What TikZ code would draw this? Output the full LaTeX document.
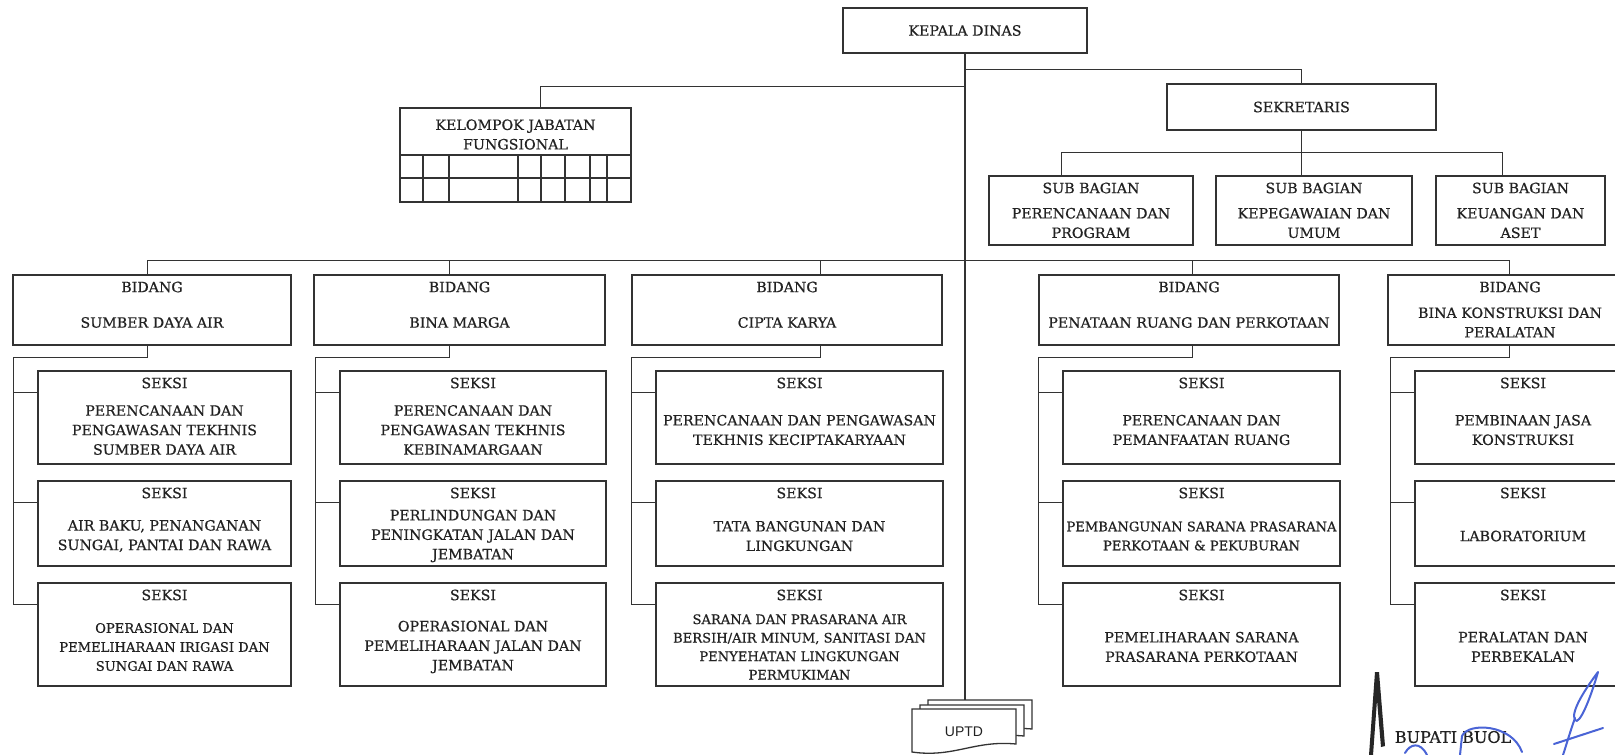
\documentclass[tikz,border=0pt]{standalone}
\usepackage{fontspec}
\setmainfont[FakeBold=0.6]{DejaVu Serif}
\newfontfamily\uptdfont{Liberation Sans}
\usetikzlibrary{calc}
\definecolor{ink}{HTML}{333333}
\definecolor{txt}{HTML}{222222}
\definecolor{sig}{HTML}{4A64D6}
\tikzset{
  unitbox/.style={draw=ink, line width=1.5pt, fill=white, inner sep=0pt},
  unittext/.style={align=center, inner sep=0pt, text=txt, font=\fontsize{14.2}{19.5}\selectfont},
  smalltext/.style={font=\fontsize{13.1}{19}\selectfont},
  tighttext/.style={font=\fontsize{13.1}{18.5}\selectfont},
  wire/.style={draw=ink, line width=1.3pt},
  sigline/.style={draw=sig, line width=2pt, line cap=round},
}
% [body style]{name}{L}{T}{R}{B}{title}{body}
\newcommand{\orgunit}[8][]{%
  \pgfmathsetmacro\ouw{#5-#3}%
  \pgfmathsetmacro\ouh{#6-#4}%
  \pgfmathsetmacro\oux{(#3+#5)/2}%
  \pgfmathsetmacro\ouy{(#4+#6)/2}%
  \pgfmathsetmacro\outy{#4+12}%
  \pgfmathsetmacro\ouby{(#4+25+#6)/2}%
  \node[unitbox, minimum width=\ouw pt, minimum height=\ouh pt] (#2) at (\oux,\ouy) {};%
  \node[unittext] (#2-t) at (\oux,\outy) {#7};%
  \node[unittext,#1] (#2-b) at (\oux,\ouby) {#8};%
}
\begin{document}
\begin{tikzpicture}[x=1pt,y=-1pt]
\useasboundingbox (0,0) rectangle (1615,755);
\clip (0,0) rectangle (1615,755);
\fill[white] (0,0) rectangle (1615,755);

% top
\node[unitbox, unittext, minimum width=244pt, minimum height=45pt] (kepala) at (965,30.5) {KEPALA DINAS};
\node[unitbox, unittext, minimum width=269pt, minimum height=46pt] (sekre) at (1301.5,107) {SEKRETARIS};

% kelompok jabatan fungsional
\node[unitbox, minimum width=231pt, minimum height=94pt] (kjf) at (515.5,155) {};
\node[unittext] (kjf-t) at (515.5,134.5) {KELOMPOK JABATAN\\FUNGSIONAL};
\draw[wire, line width=1.4pt] (400,155) -- (631,155) (400,178) -- (631,178);
\foreach \gx in {423,449,518,541,565,590,607} \draw[wire, line width=1.4pt] (\gx,155) -- (\gx,202);

% sub bagian
\orgunit{sb1}{989}{176}{1193}{245}{SUB BAGIAN}{PERENCANAAN DAN\\PROGRAM}
\orgunit{sb2}{1216}{176}{1412}{245}{SUB BAGIAN}{KEPEGAWAIAN DAN\\UMUM}
\orgunit{sb3}{1436}{176}{1605}{245}{SUB BAGIAN}{KEUANGAN DAN\\ASET}

% bidang
\orgunit{b1}{13}{275}{291}{345}{BIDANG}{SUMBER DAYA AIR}
\orgunit{b2}{314}{275}{605}{345}{BIDANG}{BINA MARGA}
\orgunit{b3}{632}{275}{942}{345}{BIDANG}{CIPTA KARYA}
\orgunit{b4}{1039}{275}{1339}{345}{BIDANG}{PENATAAN RUANG DAN PERKOTAAN}
\orgunit{b5}{1388}{275}{1632}{345}{BIDANG}{BINA KONSTRUKSI DAN\\PERALATAN}

% seksi column 1
\orgunit{s1-1}{38}{371}{291}{464}{SEKSI}{PERENCANAAN DAN\\PENGAWASAN TEKHNIS\\SUMBER DAYA AIR}
\orgunit{s1-2}{38}{481}{291}{566}{SEKSI}{AIR BAKU, PENANGANAN\\SUNGAI, PANTAI DAN RAWA}
\orgunit[smalltext]{s1-3}{38}{583}{291}{686}{SEKSI}{OPERASIONAL DAN\\PEMELIHARAAN IRIGASI DAN\\SUNGAI DAN RAWA}
% column 2
\orgunit{s2-1}{340}{371}{606}{464}{SEKSI}{PERENCANAAN DAN\\PENGAWASAN TEKHNIS\\KEBINAMARGAAN}
\orgunit{s2-2}{340}{481}{606}{566}{SEKSI}{PERLINDUNGAN DAN\\PENINGKATAN JALAN DAN\\JEMBATAN}
\orgunit{s2-3}{340}{583}{606}{686}{SEKSI}{OPERASIONAL DAN\\PEMELIHARAAN JALAN DAN\\JEMBATAN}
% column 3
\orgunit{s3-1}{656}{371}{943}{464}{SEKSI}{PERENCANAAN DAN PENGAWASAN\\TEKHNIS KECIPTAKARYAAN}
\orgunit{s3-2}{656}{481}{943}{566}{SEKSI}{TATA BANGUNAN DAN\\LINGKUNGAN}
\orgunit[tighttext]{s3-3}{656}{583}{943}{686}{SEKSI}{SARANA DAN PRASARANA AIR\\BERSIH/AIR MINUM, SANITASI DAN\\PENYEHATAN LINGKUNGAN\\PERMUKIMAN}
% column 4
\orgunit{s4-1}{1063}{371}{1340}{464}{SEKSI}{PERENCANAAN DAN\\PEMANFAATAN RUANG}
\orgunit[smalltext]{s4-2}{1063}{481}{1340}{566}{SEKSI}{PEMBANGUNAN SARANA PRASARANA\\PERKOTAAN \& PEKUBURAN}
\orgunit{s4-3}{1063}{583}{1340}{686}{SEKSI}{PEMELIHARAAN SARANA\\PRASARANA PERKOTAAN}
% column 5
\orgunit{s5-1}{1415}{371}{1631}{464}{SEKSI}{PEMBINAAN JASA\\KONSTRUKSI}
\orgunit{s5-2}{1415}{481}{1631}{566}{SEKSI}{LABORATORIUM}
\orgunit{s5-3}{1415}{583}{1631}{686}{SEKSI}{PERALATAN DAN\\PERBEKALAN}

% UPTD (stacked documents)
\filldraw[wire, fill=white] (928,737) -- (928,700) -- (1032,700) -- (1032,729) .. controls (990,725) and (970,743) .. (928,737) -- cycle;
\filldraw[wire, fill=white] (920,744) -- (920,705) -- (1024,705) -- (1024,736) .. controls (982,732) and (962,750) .. (920,744) -- cycle;
\filldraw[wire, fill=white] (912,752) -- (912,709) -- (1016,709) -- (1016,744) .. controls (974,740) and (954,758) .. (912,752) -- cycle;
\node[inner sep=0pt, text=txt, font=\uptdfont\fontsize{14}{14}\selectfont] (uptd) at (964,732) {UPTD};
\coordinate (uptdtop) at (965,700);

% connectors
\draw[wire] (kepala.south) -- (uptdtop);
\draw[wire] ($(kepala.south)+(0,16)$) -| (sekre.north);
\draw[wire] ($(kepala.south)+(0,33)$) -| ($(kjf.north west)+(141,0)$);
\draw[wire] (sekre.south) -- (sekre.south |- sb2.north);
\draw[wire] ($(sb1.north west)+(73,0)$) -- ++(0,-23) -| ($(sb3.north west)+(67,0)$);
\draw[wire] ($(b1.north west)+(135,0)$) -- ++(0,-14) -| ($(b5.north west)+(122,0)$);
\draw[wire] ($(b2.north west)+(136,0)$) -- ++(0,-14);
\draw[wire] ($(b3.north west)+(189,0)$) -- ++(0,-14);
\draw[wire] ($(b4.north west)+(154,0)$) -- ++(0,-14);
\foreach \c/\off in {1/135, 2/136, 3/189, 4/154, 5/122} {
  \draw[wire] ($(b\c.south west)+(\off,0)$) -- ++(0,12) -| ($(s\c-3.north west)+(-24,22)$) -- ($(s\c-3.north west)+(0,22)$);
  \draw[wire] ($(s\c-1.north west)+(-24,22)$) -- ($(s\c-1.north west)+(0,22)$);
  \draw[wire] ($(s\c-2.north west)+(-24,22)$) -- ($(s\c-2.north west)+(0,22)$);
}

% signature area
\fill[black!85] (1375,672) -- (1379,672) -- (1385,746) -- (1381,747) -- (1377,700) -- (1373,755) -- (1369,755) -- cycle;
\node[inner sep=0pt, text=txt, font=\fontsize{16}{16}\selectfont] (bupati) at (1453,737) {BUPATI BUOL};
\draw[sigline] (1405,753) .. controls (1410,744) and (1420,741) .. (1427,755);
\draw[sigline] (1460,755) -- (1462,736) .. controls (1468,722) and (1512,724) .. (1522,752);
\draw[sigline] (1598,672) .. controls (1586,688) and (1570,712) .. (1575,720) .. controls (1579,726) and (1590,700) .. (1598,672);
\draw[sigline] (1575,718) .. controls (1570,732) and (1566,746) .. (1563,755);
\draw[sigline] (1554,744) -- (1603,728);
\end{tikzpicture}
\end{document}
